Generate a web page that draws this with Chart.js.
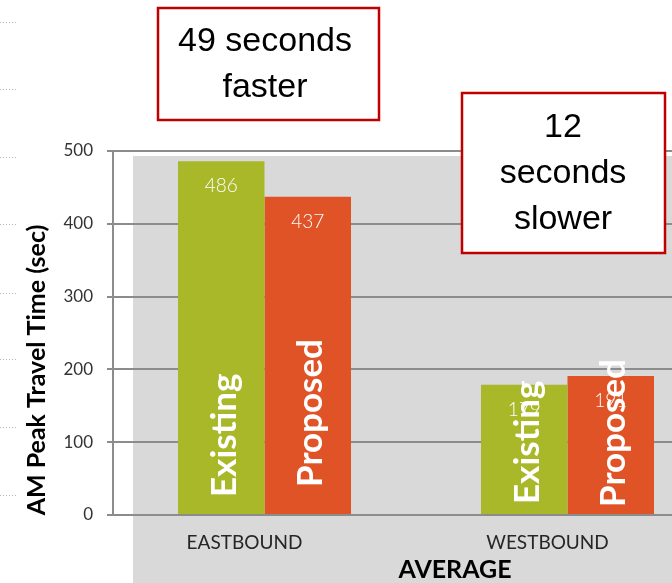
<!DOCTYPE html>
<html>
<head>
<meta charset="utf-8">
<script src="https://cdn.jsdelivr.net/npm/chart.js@4.4.1/dist/chart.umd.min.js"></script>
<style>
html, body { margin: 0; padding: 0; overflow: hidden; background: #fff; }
#caja { width: 719px; height: 583px; position: relative; }
</style>
</head>
<body>
<div id="caja"><canvas id="lienzo"></canvas></div>
<script>
const categorias = ['EASTBOUND', 'WESTBOUND']
const existente = [486, 179]
const propuesto = [437, 191]
const series = ['Existing', 'Proposed']
const ticksY = [0, 100, 200, 300, 400, 500]
const tituloY = 'AM Peak Travel Time (sec)'
const tituloX = 'AVERAGE'
const nota1 = ['49 seconds', 'faster']
const nota2 = ['12', 'seconds', 'slower']

const verde = '#a9b829'
const naranja = '#e05326'
const gris = '#8c8c8c'

// how far above the bar base the rotated name starts, per dataset / category
const subida = [[17, 10], [27, 7]]

const adornos = {
    id: 'adornos',
    beforeDraw(chart) {
        const ctx = chart.ctx
        ctx.save()
        ctx.fillStyle = '#d9d9d9'
        ctx.fillRect(133, 156, chart.width - 133, chart.height - 156)

        // short dotted marks on the left edge
        ctx.strokeStyle = '#b5b5b5'
        ctx.lineWidth = 1
        ctx.setLineDash([1, 2])
        for (const y of [22, 89, 157, 224, 293, 359, 427, 495]) {
            ctx.beginPath()
            ctx.moveTo(0, y + 0.5)
            ctx.lineTo(18, y + 0.5)
            ctx.stroke()
        }
        ctx.restore()
    },
    afterDatasetsDraw(chart) {
        const ctx = chart.ctx
        ctx.save()
        ctx.fillStyle = '#fff'
        chart.data.datasets.forEach((ds, i) => {
            const meta = chart.getDatasetMeta(i)
            meta.data.forEach((bar, j) => {
                ctx.font = '300 19px Lato'
                ctx.textAlign = 'center'
                ctx.textBaseline = 'middle'
                ctx.fillText(ds.data[j], bar.x, bar.y + 25)

                ctx.save()
                ctx.translate(bar.x + 3, bar.base - subida[i][j])
                ctx.rotate(-Math.PI / 2)
                ctx.font = 'bold 35px Lato'
                ctx.textAlign = 'left'
                ctx.fillText(ds.label, 0, 0)
                ctx.restore()
            })
        })
        ctx.restore()
    },
    afterDraw(chart) {
        const ctx = chart.ctx
        ctx.save()
        ctx.fillStyle = '#000'
        ctx.textAlign = 'center'
        ctx.textBaseline = 'middle'

        ctx.save()
        ctx.translate(37, 370)
        ctx.rotate(-Math.PI / 2)
        ctx.font = 'bold 25px Lato'
        ctx.fillText(tituloY, 0, 0)
        ctx.restore()

        ctx.font = 'bold 25px Lato'
        ctx.fillText(tituloX, 455, 570)

        const caja = (x, y, w, h, lineas, cx, y0) => {
            ctx.fillStyle = '#fff'
            ctx.fillRect(x, y, w, h)
            ctx.strokeStyle = '#c00000'
            ctx.lineWidth = 2.5
            ctx.strokeRect(x, y, w, h)
            ctx.fillStyle = '#000'
            ctx.font = '34px "Liberation Sans"'
            lineas.forEach((t, k) => ctx.fillText(t, cx, y0 + k * 46))
        }
        caja(158, 8, 221, 112, nota1, 265, 42)
        caja(462, 93, 203, 160, nota2, 563, 128)
        ctx.restore()
    }
}

new Chart(document.getElementById('lienzo'), {
    type: 'bar',
    data: {
        labels: categorias,
        datasets: [
            { label: series[0], data: existente, backgroundColor: verde },
            { label: series[1], data: propuesto, backgroundColor: naranja }
        ]
    },
    options: {
        responsive: true,
        maintainAspectRatio: false,
        animation: false,
        events: [],
        layout: { padding: { top: 151, left: 0, right: 0, bottom: 0 } },
        datasets: { bar: { categoryPercentage: 0.571, barPercentage: 1 } },
        plugins: { legend: { display: false }, tooltip: { enabled: false } },
        scales: {
            x: {
                grid: { display: false, drawTicks: false },
                border: { display: false },
                ticks: { font: { family: 'Lato', size: 19 }, color: '#262626', padding: 16, labelOffset: -20 },
                afterFit: (s) => { s.height = 68 }
            },
            y: {
                min: 0,
                max: 500,
                afterBuildTicks: (s) => { s.ticks = ticksY.map(v => ({ value: v })) },
                grid: { color: gris, lineWidth: 2, tickLength: 6 },
                border: { display: true, color: gris, width: 2 },
                ticks: { font: { family: 'Lato', size: 17 }, color: '#333', padding: 14 },
                afterFit: (s) => { s.width = 113 }
            }
        }
    },
    plugins: [adornos]
})
</script>
</body>
</html>
